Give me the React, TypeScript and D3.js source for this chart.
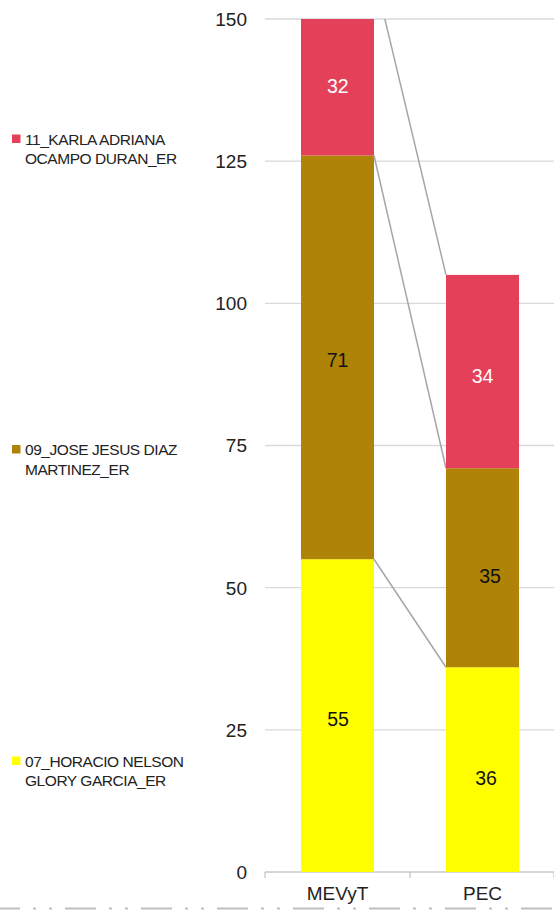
import React from "react";
import * as d3 from "d3";

const categories = ["MEVyT", "PEC"];
const seriesNames = [
  "07_HORACIO NELSON GLORY GARCIA_ER",
  "09_JOSE JESUS DIAZ MARTINEZ_ER",
  "11_KARLA ADRIANA OCAMPO DURAN_ER",
];
const legendLines = [
  ["07_HORACIO NELSON", "GLORY GARCIA_ER"],
  ["09_JOSE JESUS DIAZ", "MARTINEZ_ER"],
  ["11_KARLA ADRIANA", "OCAMPO DURAN_ER"],
];
const horacio = [55, 36];
const jose = [71, 35];
const karla = [32, 34];
const yTicks = [0, 25, 50, 75, 100, 125, 150];

// styling
const colors = ["#FFFF00", "#AE8308", "#E5405A"];
const labelColors = ["#111", "#111", "#fff"];
const legendY = [761, 449.5, 139];
const labelDx = [[0.5, 3.5], [0, 7.5], [0.3, 0]];
const labelDy = [[3.4, 7.9], [2.5, 8.3], [-1.4, 4]];

export default function App() {
  const W = 554, H = 910;
  const left = 265, right = 554, top = 19, bottom = 872;
  const x = d3.scaleBand<string>().domain(categories).range([left, right + 1]).paddingInner(0).paddingOuter(0);
  const y = d3.scaleLinear().domain([0, 150]).range([bottom, top]);
  const barW = 73;
  const table = categories.map((c, i) => ({ cat: c, s0: horacio[i], s1: jose[i], s2: karla[i] }));
  const stacked = d3.stack<any>().keys(["s0", "s1", "s2"])(table);
  const font = "'Liberation Sans', Arial, sans-serif";
  const cx = (c: string) => x(c)! + x.bandwidth() / 2;
  const bx = (c: string) => cx(c) - barW / 2;

  return (
    <svg width={W} height={H} style={{ position: "absolute", left: 0, top: 0, background: "#fff" }}>
      <defs>
        <clipPath id="plot">
          <rect x={left} y={top} width={right - left} height={bottom - top} />
        </clipPath>
      </defs>
      {yTicks.map((t) => (
        <g key={t}>
          {t > 0 && <line x1={left} x2={right} y1={y(t)} y2={y(t)} stroke="#D9D9D9" strokeWidth={1.3} />}
          <text x={247} y={y(t)} dy="0.36em" textAnchor="end" fontFamily={font} fontSize={19} fill="#222">{t}</text>
        </g>
      ))}
      <line x1={left} x2={right} y1={bottom} y2={bottom} stroke="#C8C8C8" strokeWidth={1.3} />
      {[left, left + x.bandwidth(), right].map((tx, i) => (
        <line key={i} x1={tx} x2={tx} y1={bottom} y2={bottom + 6} stroke="#C8C8C8" strokeWidth={1.3} />
      ))}
      <g clipPath="url(#plot)">
        {stacked.map((layer, si) => (
          <g key={si}>
            {layer.map((d, ci) => (
              <rect key={ci} x={bx(categories[ci])} width={barW} y={y(d[1])} height={y(d[0]) - y(d[1])} fill={colors[si]} />
            ))}
            <line
              x1={bx(categories[0]) + barW}
              y1={y(layer[0][1])}
              x2={bx(categories[1])}
              y2={y(layer[1][1])}
              stroke="#A6A6A6"
              strokeWidth={1.5}
            />
          </g>
        ))}
      </g>
      {stacked.map((layer, si) =>
        layer.map((d, ci) => {
          const hi = Math.min(d[1], 150);
          const mid = (d[0] + hi) / 2;
          return (
            <text key={si + "-" + ci} x={cx(categories[ci]) + labelDx[si][ci]} y={y(mid) + labelDy[si][ci]} dy="0.36em" textAnchor="middle" fontFamily={font} fontSize={19.5} fill={labelColors[si]}>
              {d[1] - d[0]}
            </text>
          );
        })
      )}
      {categories.map((c) => (
        <text key={c} x={cx(c)} y={893} dy="0.36em" textAnchor="middle" fontFamily={font} fontSize={19} fill="#222">{c}</text>
      ))}
      {seriesNames.map((n, i) => (
        <g key={n}>
          <rect x={12} y={legendY[i] - 4.5} width={8.5} height={8.5} fill={colors[i]} />
          {legendLines[i].map((ln, li) => (
            <text key={li} x={25} y={legendY[i] + li * 19.5} dy="0.36em" fontFamily={font} fontSize={15.5} letterSpacing={-0.45} fill="#222">{ln}</text>
          ))}
        </g>
      ))}
      <line x1={0} x2={W} y1={908.5} y2={908.5} stroke="#BFBFBF" strokeWidth={2} strokeDasharray="31 13 3 13 3 13" strokeDashoffset={11} />
    </svg>
  );
}
